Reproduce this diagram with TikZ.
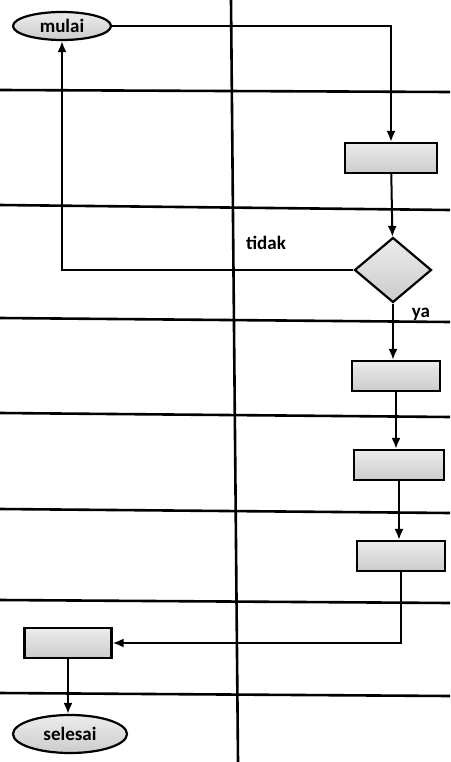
\documentclass[tikz,border=0pt]{standalone}
\usepackage{fontspec}
\setmainfont{Carlito}
\usetikzlibrary{arrows,arrows.meta,shapes}
\usetikzlibrary{shapes.geometric}
\usetikzlibrary{calc}

\begin{document}
\begin{tikzpicture}[x=1pt,y=-1pt, auto,
  lane/.style={black,line width=2.6pt},
  proses/.style={draw,line width=2.2pt,top color=gray!15,bottom color=gray!40,minimum width=88pt,minimum height=30pt,inner sep=0pt},
  terminal/.style={draw,ellipse,line width=2.2pt,top color=gray!15,bottom color=gray!40,inner sep=0pt,font=\bfseries\fontsize{19}{22}\selectfont},
  putusan/.style={draw,diamond,line width=2.2pt,top color=gray!15,bottom color=gray!40,minimum width=77pt,minimum height=65pt,inner sep=0pt},
  alur/.style={-{Latex[length=11pt,width=9pt]},line width=2pt},
  label/.style={font=\bfseries\fontsize{19}{22}\selectfont}]
\useasboundingbox (0,0) rectangle (450,762);

% garis lajur
\draw[lane](0,90)--(450,92);
\draw[lane](0,205)--(450,210);
\draw[lane](0,318)--(450,322);
\draw[lane](0,413)--(450,417);
\draw[lane](0,509)--(450,513);
\draw[lane](0,600)--(450,603);
\draw[lane](0,693)--(450,696);
\draw[lane](231,0)--(238,762);

% simpul
\node[terminal,minimum width=98pt,minimum height=28pt] (mulai) at (62,26){mulai};
\node[proses,minimum width=92pt] (p1) at (391,158){};
\node[putusan] (cek) at (393,270){};
\node[proses] (p2) at (396,376){};
\node[proses,minimum width=90pt] (p3) at (399,465){};
\node[proses] (p4) at (401,556){};
\node[proses,minimum width=87pt] (p5) at (68,643){};
\node[terminal,minimum width=114pt,minimum height=38pt] (selesai) at (70,734){selesai};

% alur
\draw[alur](mulai.east)-|(p1.north);
\draw[alur](p1)--(cek);
\draw[alur](cek.west)-|(mulai.south);
\node[label] (tidak) at (266,243){tidak};
\draw[alur](cek.south)--(cek.south|-p2.north);
\node[label] (ya) at (421,314){ya};
\draw[alur](p2.south)--(p2.south|-p3.north);
\draw[alur](p3.south)--(p3.south|-p4.north);
\draw[alur](p4.south)|-(p5.east);
\draw[alur](p5.south)--(p5.south|-selesai.north);

\end{tikzpicture}
\end{document}
